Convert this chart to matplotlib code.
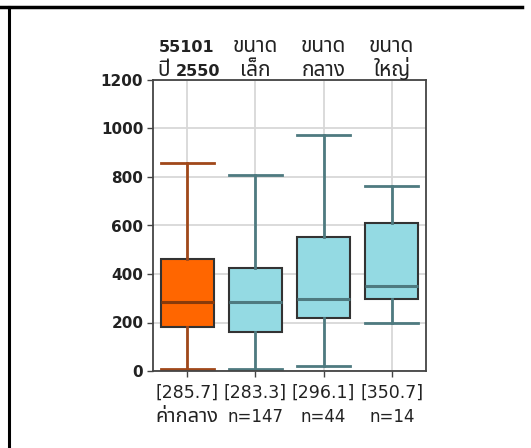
import matplotlib
matplotlib.use("Agg")
import matplotlib.pyplot as plt
from matplotlib.lines import Line2D
import matplotlib.transforms as mtransforms

plt.rcParams['font.family'] = ['DejaVu Sans', 'Noto Sans Thai']

# data
top_line1 = ["55101", "ขนาด", "ขนาด", "ขนาด"]
top_line2 = ["ปี 2550", "เล็ก", "กลาง", "ใหญ่"]
bottom_second = ["ค่ากลาง", "n=147", "n=44", "n=14"]
medians = [285.7, 283.3, 296.1, 350.7]
q1 = [183, 160, 217, 297]
q3 = [463, 423, 553, 609]
whis_lo = [8, 8, 20, 198]
whis_hi = [859, 808, 973, 762]
y_ticks = [0, 200, 400, 600, 800, 1000, 1200]

face_colors = ["#FF6600", "#94DAE3", "#94DAE3", "#94DAE3"]
whisker_colors = ["#A0481A", "#4E7A80", "#4E7A80", "#4E7A80"]
median_colors = ["#8A3A0A", "#4E7A80", "#4E7A80", "#4E7A80"]

THAI = ['Noto Sans Thai', 'DejaVu Sans']
LATIN = ['DejaVu Sans', 'Noto Sans Thai']


def is_thai(s):
    return any('\u0E00' <= ch <= '\u0E7F' for ch in s)


fig = plt.figure(figsize=(5.31, 4.48), dpi=100)
ax = fig.add_axes([153/531, 77/448, 273/531, 291/448])

positions = list(range(1, len(medians) + 1))
for i, p in enumerate(positions):
    stats = [dict(med=medians[i], q1=q1[i], q3=q3[i],
                  whislo=whis_lo[i], whishi=whis_hi[i], fliers=[])]
    ax.bxp(stats, positions=[p], widths=0.78, patch_artist=True,
           showfliers=False,
           boxprops=dict(facecolor=face_colors[i], edgecolor="#333333", linewidth=1.5),
           whiskerprops=dict(color=whisker_colors[i], linewidth=2),
           capprops=dict(color=whisker_colors[i], linewidth=2),
           medianprops=dict(color=median_colors[i], linewidth=2.2),
           capwidths=0.78)

ax.set_xlim(0.5, 4.5)
ax.set_ylim(0, 1200)
ax.set_yticks(y_ticks)
ax.set_yticklabels([str(v) for v in y_ticks], fontsize=11, fontweight='bold', color='#222222')
ax.set_xticks(positions)
ax.set_xticklabels([])
ax.tick_params(axis='both', direction='out', length=4, width=1, color='#444444', pad=3)
ax.grid(True, color='#d8d8d8', linewidth=1.3)
ax.set_axisbelow(True)
for s in ax.spines.values():
    s.set_color('#444444')
    s.set_linewidth(1.3)

trans = mtransforms.blended_transform_factory(ax.transData, ax.transAxes)
px = 1.0 / 291.0  # one pixel in axes fraction (vertical)


def put(x, y, s, size_latin, size_thai, weight, ha='center'):
    if is_thai(s) and any(c.isdigit() for c in s):
        # mixed: Thai word then number, split around x
        th, num = s.split(' ', 1)
        ax.text(x - 0.25, y, th, transform=trans, ha='right', va='baseline',
                family=THAI, fontsize=size_thai, fontweight=weight, color='#222222')
        ax.text(x - 0.16, y, num, transform=trans, ha='left', va='baseline',
                family=LATIN, fontsize=size_latin, fontweight=weight, color='#222222')
    elif is_thai(s):
        ax.text(x, y, s, transform=trans, ha=ha, va='baseline',
                family=THAI, fontsize=size_thai, fontweight=weight, color='#222222')
    else:
        ax.text(x, y, s, transform=trans, ha=ha, va='baseline',
                family=LATIN, fontsize=size_latin, fontweight=weight, color='#222222')


for i, p in enumerate(positions):
    put(p, (371 - 52) * px, top_line1[i], 11.5, 15, 'bold')
    put(p, (371 - 76) * px, top_line2[i], 11.5, 15, 'bold')
    put(p, (371 - 398) * px, "[%.1f]" % medians[i], 12.5, 14, 'normal')
    put(p, (371 - 422) * px, bottom_second[i], 12, 14.5, 'normal')

fig.add_artist(Line2D([0, 522/531], [1 - 7/448, 1 - 7/448], transform=fig.transFigure,
                      color='black', linewidth=2.5))
fig.add_artist(Line2D([9/531, 9/531], [0, 1 - 7/448], transform=fig.transFigure,
                      color='black', linewidth=2.2))

fig.savefig("out.png", dpi=100)
